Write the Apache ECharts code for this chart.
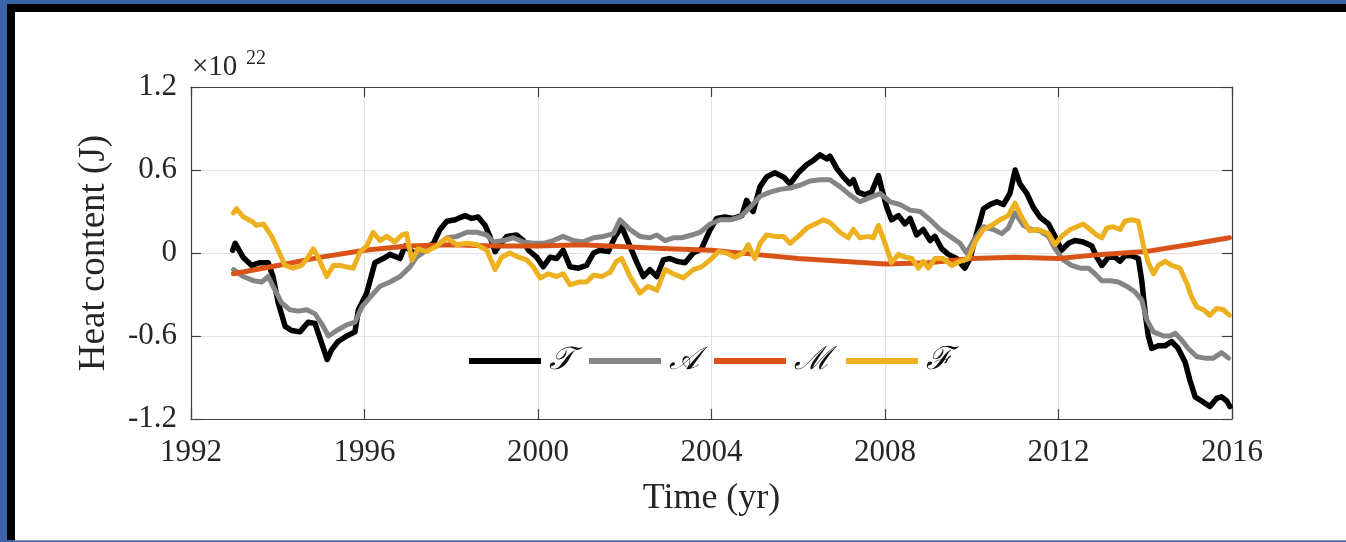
<!DOCTYPE html>
<html>
<head>
<meta charset="utf-8">
<script src="https://cdn.jsdelivr.net/npm/echarts@6/dist/echarts.min.js"></script>
<style>
  html, body { margin: 0; padding: 0; width: 1346px; height: 542px; overflow: hidden; background: #3b64a7; }
  #frame { position: absolute; left: 7px; top: 4px; width: 1339px; height: 536px; background: #000; }
  #paper { position: absolute; left: 15px; top: 12px; width: 1331px; height: 528px; background: #fff; border-bottom: 1px solid #8f98a8; }
  #chart { position: absolute; left: 0; top: 0; width: 1346px; height: 542px; }
</style>
</head>
<body>
<div id="frame"></div>
<div id="paper"></div>
<div id="chart"></div>
<script>
// Heat content anomalies (units of 1e22 J), [year, value]
const seriesNames = ['\u{1D4AF}', '\u{1D49C}', '\u2133', '\u2131'];
const seriesColors = ['#000000', '#858585', '#d95319', '#edb120'];

const totalT = [
  [1992.96, 0.02], [1993.02, 0.07], [1993.20, -0.03], [1993.40, -0.09], [1993.59, -0.07], [1993.78, -0.07],
  [1993.89, -0.17], [1994.01, -0.36], [1994.17, -0.53], [1994.32, -0.56], [1994.51, -0.57], [1994.70, -0.50],
  [1994.86, -0.51], [1995.01, -0.65], [1995.14, -0.77], [1995.24, -0.70], [1995.39, -0.64], [1995.59, -0.60],
  [1995.78, -0.57], [1995.86, -0.41], [1996.05, -0.29], [1996.24, -0.07], [1996.43, -0.04], [1996.59, -0.01],
  [1996.82, -0.04], [1996.93, 0.05], [1997.13, 0.00], [1997.36, 0.02], [1997.59, 0.07], [1997.74, 0.17],
  [1997.90, 0.23], [1998.09, 0.24], [1998.32, 0.27], [1998.47, 0.25], [1998.62, 0.26], [1998.78, 0.20],
  [1998.89, 0.12], [1999.01, 0.01], [1999.12, 0.06], [1999.28, 0.12], [1999.51, 0.13], [1999.66, 0.09],
  [1999.78, 0.02], [1999.97, -0.03], [2000.12, -0.10], [2000.28, -0.03], [2000.43, -0.04], [2000.58, 0.02],
  [2000.74, -0.10], [2000.93, -0.11], [2001.12, -0.09], [2001.28, 0.00], [2001.43, 0.02], [2001.62, 0.01],
  [2001.78, 0.12], [2001.93, 0.19], [2002.12, 0.05], [2002.28, -0.07], [2002.43, -0.17], [2002.58, -0.12],
  [2002.74, -0.17], [2002.89, -0.05], [2003.04, -0.04], [2003.20, -0.06], [2003.39, -0.07], [2003.58, 0.00],
  [2003.77, 0.03], [2003.97, 0.17], [2004.12, 0.25], [2004.31, 0.26], [2004.50, 0.25], [2004.70, 0.27],
  [2004.81, 0.38], [2004.96, 0.30], [2005.12, 0.48], [2005.27, 0.55], [2005.46, 0.58], [2005.66, 0.55],
  [2005.81, 0.50], [2006.00, 0.58], [2006.20, 0.64], [2006.35, 0.67], [2006.50, 0.71], [2006.66, 0.68],
  [2006.73, 0.70], [2006.89, 0.61], [2007.04, 0.55], [2007.19, 0.50], [2007.27, 0.53], [2007.38, 0.44],
  [2007.54, 0.42], [2007.69, 0.44], [2007.85, 0.56], [2007.92, 0.47], [2008.04, 0.33], [2008.15, 0.24],
  [2008.31, 0.27], [2008.46, 0.21], [2008.58, 0.25], [2008.73, 0.13], [2008.88, 0.17], [2009.04, 0.09],
  [2009.15, 0.12], [2009.31, 0.03], [2009.46, -0.01], [2009.65, -0.04], [2009.84, -0.11], [2009.96, -0.04],
  [2010.11, 0.14], [2010.27, 0.32], [2010.42, 0.35], [2010.58, 0.37], [2010.73, 0.35], [2010.88, 0.43],
  [2011.00, 0.60], [2011.11, 0.50], [2011.27, 0.43], [2011.42, 0.33], [2011.57, 0.26], [2011.77, 0.21],
  [2011.92, 0.12], [2012.07, 0.02], [2012.23, 0.07], [2012.38, 0.09], [2012.57, 0.08], [2012.77, 0.05],
  [2012.88, -0.03], [2013.00, -0.09], [2013.15, -0.03], [2013.30, -0.03], [2013.42, -0.06], [2013.53, -0.02],
  [2013.69, -0.02], [2013.84, -0.04], [2013.92, -0.20], [2014.00, -0.44], [2014.07, -0.60], [2014.15, -0.69],
  [2014.30, -0.67], [2014.46, -0.67], [2014.61, -0.64], [2014.76, -0.69], [2014.92, -0.79], [2015.03, -0.92],
  [2015.15, -1.04], [2015.30, -1.07], [2015.49, -1.11], [2015.65, -1.05], [2015.76, -1.04], [2015.88, -1.07],
  [2015.95, -1.11]
];

const advectiveA = [
  [1992.98, -0.12], [1993.20, -0.17], [1993.44, -0.20], [1993.63, -0.21], [1993.78, -0.17], [1993.94, -0.27],
  [1994.09, -0.36], [1994.28, -0.41], [1994.47, -0.42], [1994.67, -0.41], [1994.86, -0.44], [1995.01, -0.51],
  [1995.17, -0.60], [1995.36, -0.56], [1995.59, -0.52], [1995.78, -0.50], [1995.94, -0.39], [1996.13, -0.32],
  [1996.36, -0.24], [1996.59, -0.21], [1996.82, -0.17], [1997.05, -0.10], [1997.20, -0.03], [1997.43, 0.02],
  [1997.66, 0.05], [1997.90, 0.11], [1998.13, 0.12], [1998.36, 0.15], [1998.59, 0.15], [1998.82, 0.13],
  [1998.97, 0.08], [1999.20, 0.09], [1999.43, 0.11], [1999.66, 0.08], [1999.89, 0.07], [2000.12, 0.07],
  [2000.35, 0.09], [2000.58, 0.12], [2000.81, 0.09], [2001.04, 0.08], [2001.28, 0.11], [2001.51, 0.12],
  [2001.74, 0.14], [2001.89, 0.24], [2002.12, 0.17], [2002.35, 0.12], [2002.58, 0.11], [2002.74, 0.13],
  [2002.93, 0.09], [2003.12, 0.11], [2003.31, 0.11], [2003.54, 0.13], [2003.74, 0.15], [2003.97, 0.21],
  [2004.20, 0.24], [2004.43, 0.24], [2004.66, 0.26], [2004.89, 0.33], [2005.12, 0.41], [2005.35, 0.44],
  [2005.58, 0.46], [2005.81, 0.47], [2006.04, 0.49], [2006.27, 0.52], [2006.50, 0.53], [2006.73, 0.53],
  [2006.96, 0.48], [2007.19, 0.42], [2007.42, 0.37], [2007.65, 0.40], [2007.89, 0.43], [2008.12, 0.37],
  [2008.35, 0.35], [2008.58, 0.31], [2008.81, 0.30], [2009.04, 0.24], [2009.27, 0.17], [2009.50, 0.12],
  [2009.73, 0.07], [2009.88, 0.00], [2010.04, 0.09], [2010.27, 0.19], [2010.50, 0.17], [2010.69, 0.14],
  [2010.84, 0.18], [2011.00, 0.29], [2011.19, 0.20], [2011.38, 0.17], [2011.57, 0.16], [2011.77, 0.12],
  [2011.92, 0.03], [2012.11, -0.05], [2012.30, -0.09], [2012.50, -0.11], [2012.69, -0.11], [2012.84, -0.15],
  [2013.00, -0.20], [2013.19, -0.20], [2013.38, -0.21], [2013.57, -0.24], [2013.76, -0.28], [2013.92, -0.34],
  [2014.03, -0.48], [2014.19, -0.57], [2014.42, -0.60], [2014.57, -0.60], [2014.69, -0.58], [2014.84, -0.63],
  [2014.99, -0.69], [2015.19, -0.75], [2015.38, -0.76], [2015.57, -0.76], [2015.76, -0.72], [2015.92, -0.76]
];

const mixingM = [
  [1992.98, -0.15], [1994.00, -0.09], [1995.00, -0.03], [1996.00, 0.02], [1997.00, 0.05], [1998.00, 0.06],
  [1999.00, 0.05], [2000.00, 0.05], [2001.00, 0.06], [2002.00, 0.045], [2003.00, 0.03], [2004.00, 0.02],
  [2005.00, -0.01], [2006.00, -0.04], [2007.00, -0.06], [2008.00, -0.08], [2009.00, -0.07], [2010.00, -0.04],
  [2011.00, -0.03], [2012.00, -0.04], [2013.00, -0.01], [2014.00, 0.01], [2015.00, 0.06], [2015.94, 0.11]
];

const forcingF = [
  [1992.98, 0.29], [1993.05, 0.32], [1993.21, 0.26], [1993.40, 0.23], [1993.51, 0.20], [1993.67, 0.21],
  [1993.86, 0.12], [1994.01, 0.02], [1994.17, -0.09], [1994.36, -0.11], [1994.55, -0.09], [1994.70, -0.03],
  [1994.82, 0.03], [1994.93, -0.03], [1995.13, -0.17], [1995.28, -0.09], [1995.44, -0.09], [1995.59, -0.10],
  [1995.74, -0.11], [1995.90, 0.01], [1996.05, 0.05], [1996.20, 0.15], [1996.36, 0.09], [1996.51, 0.12],
  [1996.70, 0.08], [1996.86, 0.13], [1996.97, 0.14], [1997.09, -0.05], [1997.24, 0.03], [1997.43, 0.01],
  [1997.66, 0.05], [1997.90, 0.11], [1998.13, 0.06], [1998.36, 0.07], [1998.59, 0.06], [1998.82, 0.02],
  [1999.01, -0.12], [1999.16, -0.03], [1999.35, 0.00], [1999.55, -0.03], [1999.74, -0.05], [1999.89, -0.10],
  [2000.05, -0.18], [2000.24, -0.15], [2000.43, -0.17], [2000.58, -0.15], [2000.74, -0.23], [2000.93, -0.21],
  [2001.12, -0.21], [2001.28, -0.16], [2001.47, -0.17], [2001.66, -0.14], [2001.81, -0.06], [2001.93, -0.04],
  [2002.12, -0.17], [2002.35, -0.29], [2002.54, -0.24], [2002.74, -0.27], [2002.93, -0.12], [2003.12, -0.15],
  [2003.35, -0.18], [2003.58, -0.12], [2003.77, -0.10], [2003.97, -0.05], [2004.16, 0.01], [2004.35, 0.00],
  [2004.54, -0.03], [2004.73, 0.00], [2004.85, 0.06], [2005.00, -0.04], [2005.12, 0.07], [2005.27, 0.13],
  [2005.46, 0.12], [2005.66, 0.12], [2005.81, 0.07], [2006.00, 0.12], [2006.20, 0.18], [2006.39, 0.21],
  [2006.58, 0.24], [2006.73, 0.22], [2006.96, 0.15], [2007.15, 0.11], [2007.27, 0.17], [2007.42, 0.11],
  [2007.62, 0.12], [2007.73, 0.11], [2007.85, 0.20], [2008.00, 0.07], [2008.15, -0.07], [2008.31, -0.01],
  [2008.46, -0.03], [2008.62, -0.04], [2008.77, -0.11], [2008.88, -0.06], [2009.00, -0.11], [2009.15, -0.04],
  [2009.34, -0.04], [2009.54, -0.09], [2009.73, -0.06], [2009.92, -0.04], [2010.08, 0.08], [2010.27, 0.17],
  [2010.46, 0.20], [2010.65, 0.24], [2010.84, 0.27], [2011.00, 0.36], [2011.15, 0.26], [2011.34, 0.16],
  [2011.53, 0.17], [2011.77, 0.14], [2011.92, 0.06], [2012.07, 0.12], [2012.27, 0.17], [2012.42, 0.19],
  [2012.57, 0.21], [2012.73, 0.17], [2012.88, 0.13], [2013.00, 0.11], [2013.11, 0.18], [2013.26, 0.19],
  [2013.42, 0.17], [2013.53, 0.23], [2013.69, 0.24], [2013.84, 0.23], [2013.96, 0.05], [2014.07, -0.07],
  [2014.19, -0.15], [2014.30, -0.09], [2014.46, -0.06], [2014.61, -0.09], [2014.80, -0.11], [2014.96, -0.22],
  [2015.07, -0.32], [2015.19, -0.39], [2015.34, -0.41], [2015.49, -0.45], [2015.65, -0.40], [2015.80, -0.41],
  [2015.94, -0.45]
];

const xTicks = { min: 1992, max: 2016, step: 4 };
const yTicks = { min: -1.2, max: 1.2, step: 0.6 };
const xName = 'Time (yr)';
const yName = 'Heat content (J)';

const FONT = '"Liberation Serif", "DejaVu Serif", serif';
const INK = '#262626';
const GRID = '#e3e3e3';

const chart = echarts.init(document.getElementById('chart'), null, { renderer: 'canvas' });

function baseX(show) {
  return {
    type: 'value', min: xTicks.min, max: xTicks.max, interval: xTicks.step,
    axisLine: { show: true, onZero: false, lineStyle: { color: '#404040', width: 1.2 } },
    axisTick: { show: true, inside: true, length: 10, lineStyle: { color: '#404040', width: 1.2 } },
    splitLine: { show: show, lineStyle: { color: GRID, width: 1 } },
    axisLabel: { show: show, color: INK, fontFamily: FONT, fontSize: 31, margin: 18, formatter: v => String(Math.round(v)) }
  };
}
function baseY(show) {
  return {
    type: 'value', min: yTicks.min, max: yTicks.max, interval: yTicks.step,
    axisLine: { show: true, onZero: false, lineStyle: { color: '#404040', width: 1.2 } },
    axisTick: { show: true, inside: true, length: 10, lineStyle: { color: '#404040', width: 1.2 } },
    splitLine: { show: show, lineStyle: { color: GRID, width: 1 } },
    axisLabel: {
      show: show, color: INK, fontFamily: FONT, fontSize: 31, margin: 14,
      formatter: v => Math.abs(v) < 1e-9 ? '0' : v.toFixed(1)
    }
  };
}

const xBottom = Object.assign(baseX(true), {
  position: 'bottom', name: xName, nameLocation: 'middle', nameGap: 62,
  nameTextStyle: { color: INK, fontFamily: FONT, fontSize: 36 }
});
const xTop = Object.assign(baseX(false), { position: 'top' });
const yLeft = Object.assign(baseY(true), {
  position: 'left', name: yName, nameLocation: 'middle', nameGap: 78, nameRotate: 90,
  nameTextStyle: { color: INK, fontFamily: FONT, fontSize: 37 }
});
const yRight = Object.assign(baseY(false), { position: 'right' });

const datasets = [totalT, advectiveA, mixingM, forcingF];

chart.setOption({
  animation: false,
  backgroundColor: 'transparent',
  grid: { left: 191, right: 114, top: 87, bottom: 123, containLabel: false },
  xAxis: [xBottom, xTop],
  yAxis: [yLeft, yRight],
  legend: {
    left: 464, top: 340, itemWidth: 72, itemHeight: 6, itemGap: 15, icon: 'rect',
    textStyle: { color: '#111', fontFamily: FONT, fontSize: 32, fontStyle: 'italic', padding: [0, 0, 0, 3] },
    data: seriesNames
  },
  graphic: [
    { type: 'text', left: 192, top: 53, style: { text: '\u00d710', font: '29px ' + FONT, fill: INK } },
    { type: 'text', left: 246, top: 49, style: { text: '22', font: '20px ' + FONT, fill: INK } }
  ],
  series: datasets.map((d, i) => ({
    name: seriesNames[i], type: 'line', data: d, xAxisIndex: 0, yAxisIndex: 0,
    showSymbol: false, symbol: 'none',
    lineStyle: { color: seriesColors[i], width: i === 0 ? 5.5 : 5, join: 'round', cap: 'round' },
    itemStyle: { color: seriesColors[i] },
    z: 2 + i
  }))
});
</script>
</body>
</html>
